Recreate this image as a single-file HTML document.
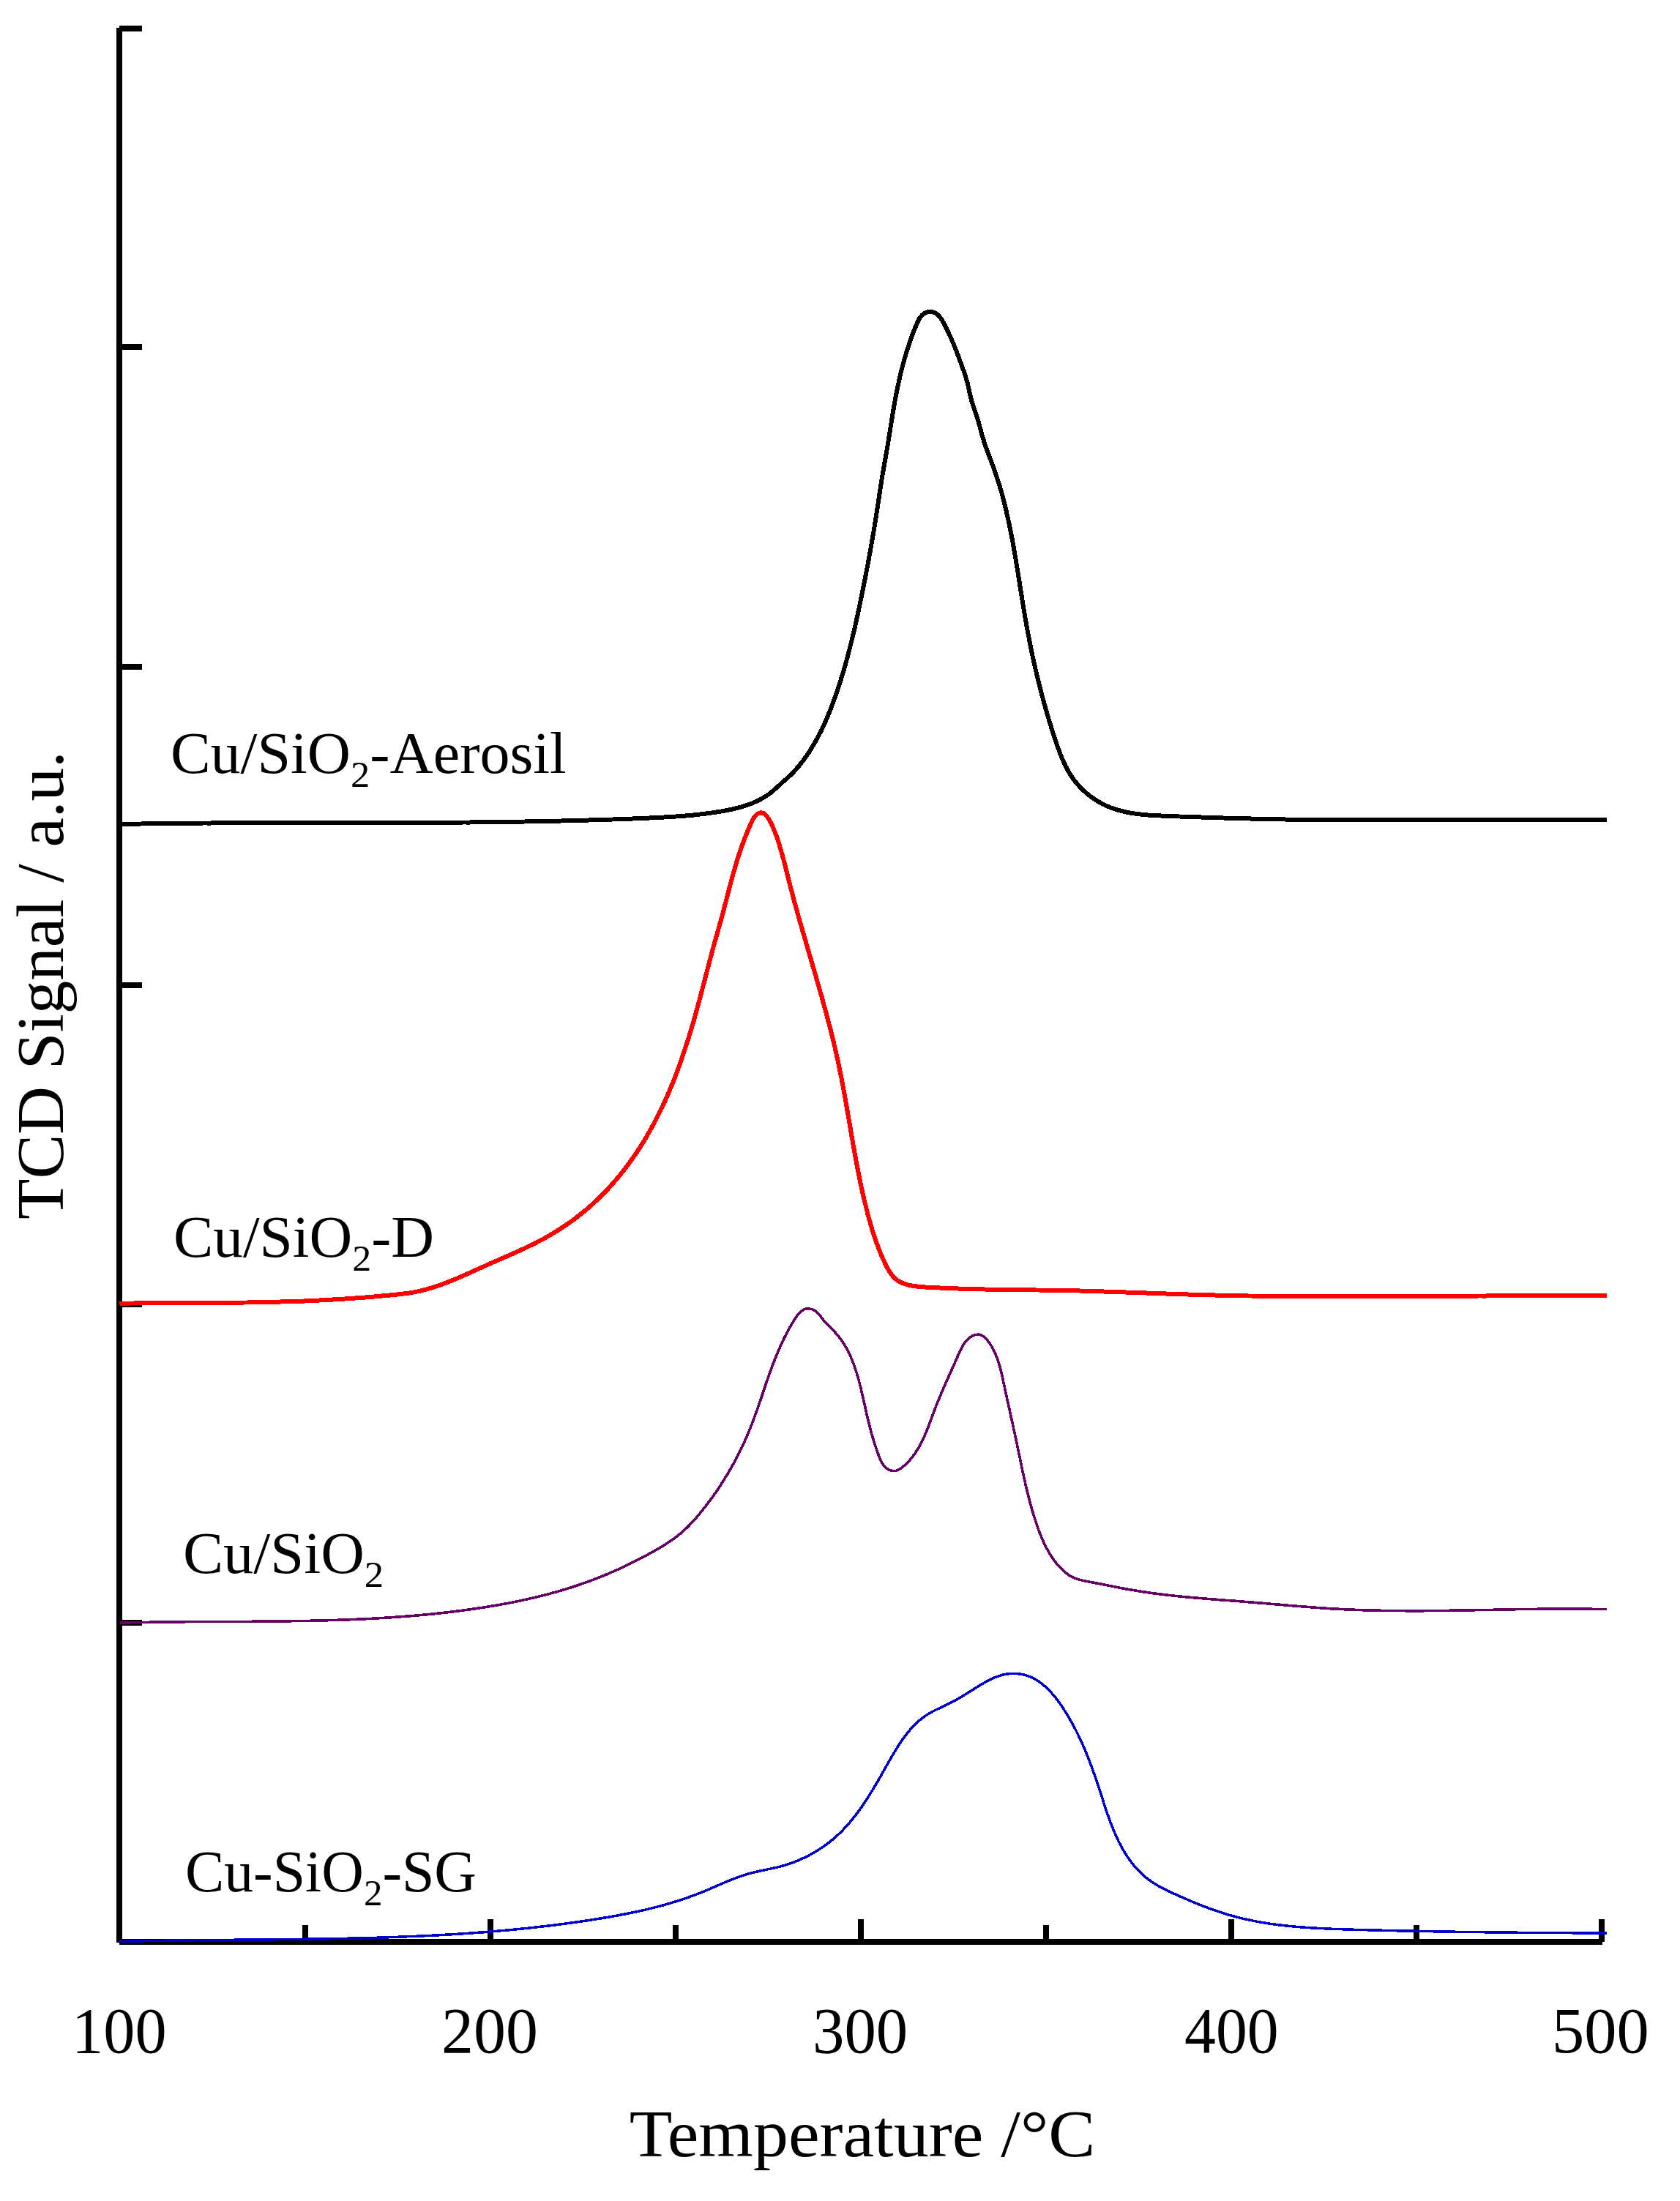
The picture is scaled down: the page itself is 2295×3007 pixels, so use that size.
<!DOCTYPE html>
<html lang="en">
<head>
<meta charset="utf-8">
<title>TPR profiles of Cu/SiO2 catalysts</title>
<style>
html,body{margin:0;padding:0;background:#fff;}
body{width:2295px;height:3007px;overflow:hidden;font-family:"Liberation Serif","DejaVu Serif",serif;}
svg{display:block;}
</style>
</head>
<body>
<svg width="2295" height="3007" viewBox="0 0 2295 3007" role="img" aria-label="H2-TPR profiles"><rect x="0" y="0" width="2295" height="3007" fill="#fff"/>
<g fill="#000" shape-rendering="crispEdges"><rect x="159" y="38" width="8" height="2616"/><rect x="163" y="2649" width="2026" height="8"/><rect x="163" y="35" width="31" height="8"/><rect x="163" y="470" width="31" height="8"/><rect x="163" y="907" width="31" height="8"/><rect x="163" y="1342" width="31" height="8"/><rect x="163" y="1778" width="31" height="8"/><rect x="163" y="2213" width="31" height="8"/><rect x="413" y="2630" width="8" height="23"/><rect x="666" y="2622" width="8" height="31"/><rect x="919" y="2630" width="8" height="23"/><rect x="1172" y="2622" width="8" height="31"/><rect x="1425" y="2630" width="8" height="23"/><rect x="1678" y="2622" width="8" height="31"/><rect x="1931" y="2630" width="8" height="23"/><rect x="2184" y="2622" width="8" height="31"/></g>
<path d="M163.0,2652.5L168.0,2652.4L173.0,2652.3L177.9,2652.1L182.9,2652.0L187.9,2651.9L192.9,2651.8L197.9,2651.7L202.9,2651.6L207.9,2651.5L212.8,2651.5L217.8,2651.4L222.8,2651.3L227.8,2651.2L232.8,2651.1L237.8,2651.1L242.8,2651.0L247.8,2651.0L252.8,2650.9L257.8,2650.8L262.8,2650.8L267.8,2650.7L272.8,2650.7L277.8,2650.6L282.8,2650.6L287.8,2650.5L292.8,2650.5L297.8,2650.4L302.8,2650.4L307.8,2650.3L312.8,2650.3L317.8,2650.3L322.8,2650.2L327.8,2650.2L332.8,2650.1L337.8,2650.1L342.8,2650.0L347.8,2650.0L352.8,2650.0L357.8,2649.9L362.8,2649.9L367.8,2649.8L372.8,2649.8L377.8,2649.7L382.8,2649.7L387.8,2649.6L392.8,2649.6L397.8,2649.5L402.8,2649.5L407.8,2649.4L412.8,2649.3L417.8,2649.3L422.8,2649.2L427.8,2649.1L432.8,2649.1L437.8,2649.0L442.8,2648.9L447.9,2648.8L452.9,2648.7L457.9,2648.6L462.9,2648.5L467.9,2648.4L472.9,2648.3L477.9,2648.2L482.9,2648.1L487.9,2648.0L492.9,2647.9L497.9,2647.7L502.9,2647.6L507.9,2647.5L512.9,2647.3L517.9,2647.2L522.9,2647.0L527.9,2646.9L532.9,2646.7L537.9,2646.5L542.9,2646.3L547.9,2646.1L552.9,2645.9L557.9,2645.7L562.9,2645.5L567.9,2645.3L572.8,2645.1L577.8,2644.9L582.8,2644.6L587.8,2644.4L592.8,2644.1L597.8,2643.9L602.8,2643.6L607.8,2643.3L612.8,2643.0L617.8,2642.7L622.7,2642.4L627.7,2642.1L632.7,2641.8L637.7,2641.4L642.7,2641.1L647.7,2640.7L652.6,2640.3L657.6,2640.0L662.6,2639.6L667.6,2639.2L672.6,2638.8L677.5,2638.4L682.5,2637.9L687.5,2637.5L692.4,2637.0L697.4,2636.6L702.4,2636.1L707.4,2635.6L712.3,2635.1L717.3,2634.6L722.3,2634.1L727.2,2633.5L732.2,2633.0L737.1,2632.4L742.1,2631.9L747.1,2631.3L752.0,2630.7L757.0,2630.1L761.9,2629.4L766.9,2628.8L771.8,2628.1L776.8,2627.5L781.7,2626.8L786.7,2626.1L791.6,2625.4L796.5,2624.7L801.5,2623.9L806.4,2623.2L811.4,2622.4L816.3,2621.6L821.2,2620.8L826.2,2620.0L831.1,2619.2L836.0,2618.3L840.9,2617.4L845.9,2616.5L850.8,2615.6L855.7,2614.6L860.6,2613.6L865.5,2612.6L870.3,2611.6L875.2,2610.5L880.1,2609.4L885.0,2608.3L889.8,2607.1L894.6,2605.9L899.5,2604.6L904.3,2603.3L909.1,2602.0L913.9,2600.6L918.7,2599.2L923.5,2597.7L928.2,2596.2L933.0,2594.7L937.7,2593.0L942.4,2591.4L947.1,2589.7L951.8,2587.9L956.5,2586.1L961.1,2584.2L965.8,2582.3L970.4,2580.3L975.0,2578.3L979.6,2576.3L984.2,2574.3L988.8,2572.3L993.5,2570.4L998.1,2568.5L1002.7,2566.7L1007.4,2564.9L1012.1,2563.2L1016.8,2561.6L1021.6,2560.2L1026.3,2558.9L1031.2,2557.7L1036.0,2556.6L1040.9,2555.5L1045.7,2554.5L1050.6,2553.5L1055.5,2552.5L1060.4,2551.4L1065.2,2550.2L1070.0,2548.9L1074.8,2547.4L1079.6,2545.9L1084.3,2544.1L1089.0,2542.3L1093.6,2540.3L1098.2,2538.2L1102.8,2536.0L1107.2,2533.6L1111.6,2531.2L1115.9,2528.6L1120.2,2525.9L1124.4,2523.1L1128.4,2520.2L1132.4,2517.2L1136.3,2514.1L1140.1,2510.9L1143.8,2507.6L1147.4,2504.2L1150.9,2500.7L1154.3,2497.1L1157.6,2493.5L1160.9,2489.7L1164.0,2485.9L1167.1,2482.1L1170.2,2478.1L1173.1,2474.1L1176.0,2470.1L1178.8,2466.0L1181.6,2461.8L1184.4,2457.6L1187.1,2453.4L1189.7,2449.1L1192.4,2444.8L1194.9,2440.5L1197.5,2436.1L1200.1,2431.8L1202.6,2427.4L1205.1,2423.0L1207.6,2418.5L1210.1,2414.1L1212.6,2409.7L1215.1,2405.3L1217.6,2400.9L1220.2,2396.5L1222.8,2392.2L1225.4,2387.9L1228.1,2383.7L1230.8,2379.5L1233.6,2375.5L1236.6,2371.5L1239.6,2367.6L1242.7,2363.9L1245.9,2360.3L1249.2,2356.8L1252.7,2353.4L1256.3,2350.2L1260.0,2347.2L1263.9,2344.4L1268.0,2341.7L1272.3,2339.2L1276.7,2336.9L1281.2,2334.7L1285.7,2332.5L1290.3,2330.4L1294.9,2328.2L1299.4,2326.0L1303.8,2323.6L1308.2,2321.2L1312.5,2318.7L1316.8,2316.1L1321.1,2313.4L1325.3,2310.8L1329.6,2308.1L1333.9,2305.4L1338.2,2302.7L1342.6,2300.1L1347.0,2297.5L1351.5,2295.2L1356.0,2293.0L1360.6,2291.0L1365.4,2289.4L1370.1,2288.1L1375.0,2287.1L1379.9,2286.6L1384.8,2286.4L1389.7,2286.6L1394.5,2287.2L1399.3,2288.2L1403.8,2289.5L1408.3,2291.3L1412.6,2293.3L1416.7,2295.7L1420.7,2298.4L1424.6,2301.4L1428.3,2304.6L1431.9,2308.1L1435.4,2311.7L1438.8,2315.6L1442.1,2319.5L1445.3,2323.7L1448.3,2327.9L1451.3,2332.2L1454.1,2336.6L1456.9,2341.0L1459.5,2345.4L1462.1,2349.8L1464.6,2354.2L1467.0,2358.7L1469.3,2363.1L1471.6,2367.6L1473.7,2372.0L1475.9,2376.5L1477.9,2381.0L1479.9,2385.5L1481.9,2390.0L1483.7,2394.5L1485.6,2399.1L1487.4,2403.6L1489.1,2408.2L1490.9,2412.8L1492.5,2417.4L1494.2,2422.1L1495.8,2426.7L1497.4,2431.4L1499.0,2436.1L1500.6,2440.8L1502.1,2445.6L1503.7,2450.3L1505.3,2455.1L1506.8,2459.9L1508.4,2464.7L1510.0,2469.5L1511.6,2474.4L1513.2,2479.1L1514.9,2483.9L1516.7,2488.7L1518.5,2493.4L1520.3,2498.1L1522.3,2502.8L1524.3,2507.4L1526.4,2512.0L1528.5,2516.5L1530.8,2520.9L1533.2,2525.3L1535.7,2529.6L1538.3,2533.8L1541.0,2538.0L1543.9,2542.0L1546.9,2546.0L1550.0,2549.8L1553.3,2553.5L1556.7,2557.1L1560.2,2560.5L1563.9,2563.8L1567.8,2566.9L1571.7,2569.8L1575.8,2572.6L1580.1,2575.2L1584.4,2577.6L1588.8,2580.0L1593.2,2582.2L1597.8,2584.4L1602.3,2586.5L1606.9,2588.6L1611.5,2590.7L1616.2,2592.7L1620.8,2594.7L1625.4,2596.7L1630.1,2598.7L1634.7,2600.6L1639.4,2602.4L1644.1,2604.3L1648.8,2606.1L1653.5,2607.8L1658.2,2609.5L1662.9,2611.1L1667.7,2612.7L1672.4,2614.2L1677.2,2615.7L1682.0,2617.1L1686.8,2618.4L1691.6,2619.6L1696.4,2620.8L1701.3,2622.0L1706.1,2623.0L1711.0,2624.0L1715.9,2625.0L1720.7,2625.9L1725.6,2626.7L1730.6,2627.5L1735.5,2628.3L1740.4,2629.0L1745.3,2629.6L1750.3,2630.2L1755.2,2630.8L1760.2,2631.3L1765.2,2631.8L1770.1,2632.3L1775.1,2632.7L1780.1,2633.1L1785.1,2633.4L1790.1,2633.8L1795.1,2634.1L1800.1,2634.3L1805.1,2634.6L1810.1,2634.8L1815.1,2635.1L1820.1,2635.3L1825.2,2635.5L1830.2,2635.6L1835.2,2635.8L1840.2,2636.0L1845.2,2636.1L1850.2,2636.3L1855.2,2636.4L1860.2,2636.6L1865.3,2636.7L1870.3,2636.8L1875.3,2637.0L1880.3,2637.1L1885.3,2637.2L1890.3,2637.3L1895.3,2637.5L1900.3,2637.6L1905.3,2637.7L1910.3,2637.8L1915.3,2637.9L1920.3,2638.0L1925.3,2638.1L1930.3,2638.2L1935.2,2638.3L1940.2,2638.4L1945.2,2638.5L1950.2,2638.6L1955.2,2638.7L1960.2,2638.8L1965.2,2638.9L1970.2,2639.0L1975.2,2639.0L1980.2,2639.1L1985.1,2639.2L1990.1,2639.3L1995.1,2639.3L2000.1,2639.4L2005.1,2639.5L2010.1,2639.6L2015.1,2639.6L2020.1,2639.7L2025.0,2639.7L2030.0,2639.8L2035.0,2639.9L2040.0,2639.9L2045.0,2640.0L2050.0,2640.0L2055.0,2640.1L2060.0,2640.1L2064.9,2640.2L2069.9,2640.2L2074.9,2640.3L2079.9,2640.3L2084.9,2640.3L2089.9,2640.4L2094.9,2640.4L2099.9,2640.5L2104.9,2640.5L2109.9,2640.5L2114.9,2640.6L2119.9,2640.6L2124.9,2640.6L2129.9,2640.7L2134.9,2640.7L2139.9,2640.7L2144.9,2640.7L2149.9,2640.8L2154.9,2640.8L2159.9,2640.8L2164.9,2640.9L2169.9,2640.9L2174.9,2640.9L2179.9,2640.9L2185.0,2641.0L2190.0,2641.0L2195.0,2641.0" fill="none" stroke="#0000cc" stroke-width="3.5" stroke-linejoin="round" stroke-linecap="butt" shape-rendering="crispEdges"/>
<path d="M164.0,2217.1L169.0,2217.0L173.9,2216.8L178.9,2216.7L183.9,2216.6L188.9,2216.5L193.9,2216.4L198.8,2216.3L203.8,2216.3L208.8,2216.2L213.8,2216.1L218.8,2216.0L223.8,2216.0L228.8,2215.9L233.7,2215.9L238.7,2215.8L243.7,2215.8L248.7,2215.8L253.7,2215.7L258.7,2215.7L263.7,2215.6L268.7,2215.6L273.7,2215.6L278.7,2215.6L283.7,2215.5L288.7,2215.5L293.7,2215.5L298.7,2215.5L303.7,2215.5L308.7,2215.4L313.7,2215.4L318.7,2215.4L323.7,2215.4L328.7,2215.4L333.7,2215.3L338.7,2215.3L343.7,2215.3L348.7,2215.2L353.7,2215.2L358.7,2215.2L363.7,2215.1L368.7,2215.1L373.7,2215.0L378.7,2215.0L383.7,2214.9L388.7,2214.9L393.6,2214.8L398.6,2214.7L403.6,2214.7L408.6,2214.6L413.6,2214.5L418.6,2214.4L423.6,2214.3L428.6,2214.2L433.6,2214.1L438.6,2214.0L443.6,2213.8L448.6,2213.7L453.6,2213.5L458.6,2213.4L463.6,2213.2L468.6,2213.0L473.6,2212.9L478.6,2212.7L483.6,2212.5L488.5,2212.2L493.5,2212.0L498.5,2211.8L503.5,2211.5L508.5,2211.3L513.5,2211.0L518.4,2210.7L523.4,2210.4L528.4,2210.1L533.4,2209.8L538.4,2209.4L543.3,2209.1L548.3,2208.7L553.3,2208.3L558.3,2208.0L563.2,2207.5L568.2,2207.1L573.2,2206.7L578.1,2206.2L583.1,2205.8L588.1,2205.3L593.0,2204.8L598.0,2204.2L602.9,2203.7L607.9,2203.1L612.8,2202.6L617.8,2202.0L622.7,2201.4L627.7,2200.7L632.6,2200.1L637.6,2199.4L642.5,2198.7L647.5,2198.0L652.4,2197.3L657.3,2196.5L662.3,2195.8L667.2,2195.0L672.1,2194.2L677.0,2193.3L682.0,2192.5L686.9,2191.6L691.8,2190.7L696.7,2189.7L701.6,2188.8L706.5,2187.8L711.4,2186.8L716.2,2185.7L721.1,2184.7L726.0,2183.5L730.9,2182.4L735.7,2181.2L740.5,2180.0L745.4,2178.8L750.2,2177.5L755.0,2176.2L759.8,2174.9L764.6,2173.5L769.4,2172.1L774.2,2170.6L778.9,2169.2L783.7,2167.6L788.4,2166.1L793.1,2164.4L797.8,2162.8L802.5,2161.1L807.2,2159.4L811.9,2157.6L816.6,2155.8L821.2,2154.0L825.8,2152.1L830.4,2150.2L835.0,2148.2L839.6,2146.2L844.2,2144.2L848.7,2142.1L853.2,2140.0L857.7,2137.8L862.2,2135.6L866.7,2133.4L871.2,2131.1L875.6,2128.8L880.0,2126.5L884.4,2124.1L888.8,2121.7L893.2,2119.3L897.5,2116.8L901.8,2114.3L906.1,2111.7L910.3,2109.0L914.5,2106.3L918.6,2103.5L922.6,2100.5L926.6,2097.5L930.4,2094.4L934.1,2091.1L937.8,2087.7L941.3,2084.2L944.7,2080.6L948.1,2076.9L951.4,2073.2L954.6,2069.3L957.8,2065.5L960.9,2061.5L964.0,2057.6L967.1,2053.6L970.1,2049.6L973.0,2045.6L975.9,2041.5L978.8,2037.4L981.6,2033.2L984.3,2029.1L987.0,2024.9L989.7,2020.6L992.3,2016.4L994.9,2012.1L997.4,2007.8L999.9,2003.5L1002.3,1999.1L1004.7,1994.7L1007.0,1990.3L1009.2,1985.9L1011.5,1981.4L1013.6,1976.9L1015.7,1972.4L1017.8,1967.9L1019.8,1963.3L1021.8,1958.7L1023.7,1954.1L1025.5,1949.5L1027.3,1944.9L1029.1,1940.2L1030.8,1935.6L1032.5,1930.9L1034.2,1926.2L1035.8,1921.5L1037.5,1916.8L1039.1,1912.1L1040.7,1907.3L1042.3,1902.6L1043.9,1897.9L1045.5,1893.2L1047.1,1888.4L1048.7,1883.7L1050.4,1879.0L1052.1,1874.3L1053.8,1869.6L1055.5,1864.9L1057.3,1860.2L1059.2,1855.6L1061.0,1850.9L1063.0,1846.3L1065.0,1841.7L1067.0,1837.1L1069.1,1832.5L1071.3,1827.9L1073.6,1823.4L1075.9,1818.9L1078.4,1814.4L1080.9,1810.0L1083.6,1805.6L1086.3,1801.2L1089.2,1797.0L1092.3,1793.3L1095.8,1790.4L1099.6,1788.4L1104.0,1787.7L1108.8,1788.6L1113.4,1790.7L1117.3,1794.0L1120.7,1797.9L1123.9,1802.2L1127.1,1806.2L1130.6,1810.0L1134.2,1813.6L1137.8,1817.1L1141.2,1820.7L1144.5,1824.4L1147.5,1828.3L1150.4,1832.2L1153.0,1836.3L1155.5,1840.5L1157.9,1844.8L1160.1,1849.2L1162.2,1853.7L1164.1,1858.3L1165.9,1862.9L1167.6,1867.6L1169.2,1872.4L1170.7,1877.2L1172.1,1882.0L1173.5,1886.9L1174.7,1891.8L1176.0,1896.7L1177.1,1901.6L1178.3,1906.5L1179.4,1911.4L1180.5,1916.3L1181.6,1921.2L1182.7,1926.1L1183.7,1930.9L1184.9,1935.7L1186.0,1940.4L1187.2,1945.2L1188.4,1949.9L1189.6,1954.7L1190.9,1959.5L1192.3,1964.2L1193.7,1969.0L1195.2,1973.8L1196.8,1978.6L1198.5,1983.5L1200.3,1988.4L1202.2,1993.3L1204.4,1998.0L1207.3,2002.3L1210.9,2005.8L1215.2,2008.5L1219.9,2009.7L1224.5,2009.3L1228.7,2007.3L1232.8,2004.4L1236.6,2001.2L1240.1,1997.8L1243.4,1994.2L1246.5,1990.3L1249.5,1986.4L1252.2,1982.2L1254.8,1978.0L1257.2,1973.6L1259.5,1969.1L1261.7,1964.5L1263.8,1959.8L1265.8,1955.1L1267.7,1950.4L1269.5,1945.6L1271.3,1940.8L1273.1,1936.0L1274.9,1931.2L1276.7,1926.5L1278.4,1921.8L1280.3,1917.2L1282.1,1912.7L1284.0,1908.2L1285.8,1903.7L1287.8,1899.2L1289.7,1894.8L1291.6,1890.3L1293.6,1885.9L1295.6,1881.4L1297.6,1876.9L1299.6,1872.4L1301.7,1867.8L1303.8,1863.2L1305.8,1858.5L1307.9,1853.7L1310.0,1848.9L1312.3,1844.1L1314.7,1839.5L1317.4,1835.2L1320.5,1831.3L1324.0,1827.9L1328.0,1825.2L1332.5,1823.5L1337.0,1823.1L1341.2,1824.3L1345.0,1827.0L1348.5,1830.5L1351.7,1834.8L1354.5,1839.3L1357.0,1843.9L1359.2,1848.5L1361.2,1853.2L1363.0,1857.9L1364.5,1862.6L1365.9,1867.4L1367.2,1872.2L1368.4,1877.0L1369.5,1881.9L1370.5,1886.7L1371.5,1891.6L1372.6,1896.4L1373.6,1901.3L1374.7,1906.2L1375.7,1911.0L1376.8,1915.9L1377.9,1920.8L1379.0,1925.6L1380.0,1930.5L1381.1,1935.4L1382.2,1940.2L1383.3,1945.1L1384.3,1950.0L1385.4,1954.9L1386.5,1959.8L1387.5,1964.7L1388.6,1969.6L1389.6,1974.5L1390.6,1979.3L1391.6,1984.2L1392.6,1989.1L1393.7,1994.0L1394.7,1998.9L1395.7,2003.8L1396.7,2008.7L1397.8,2013.6L1398.8,2018.5L1399.9,2023.4L1401.0,2028.2L1402.1,2033.1L1403.3,2037.9L1404.5,2042.8L1405.7,2047.6L1407.0,2052.4L1408.3,2057.2L1409.6,2062.0L1411.1,2066.8L1412.5,2071.6L1414.0,2076.3L1415.6,2081.1L1417.2,2085.8L1418.9,2090.5L1420.7,2095.2L1422.6,2099.8L1424.5,2104.4L1426.6,2108.9L1428.8,2113.4L1431.2,2117.8L1433.7,2122.1L1436.3,2126.4L1439.1,2130.5L1442.1,2134.5L1445.4,2138.4L1448.8,2142.2L1452.4,2145.8L1456.3,2149.1L1460.4,2152.0L1464.7,2154.5L1469.2,2156.4L1473.9,2158.0L1478.7,2159.2L1483.5,2160.3L1488.5,2161.2L1493.4,2162.1L1498.3,2163.1L1503.3,2164.0L1508.2,2165.0L1513.1,2165.9L1518.0,2166.9L1522.9,2167.9L1527.8,2168.8L1532.7,2169.8L1537.6,2170.7L1542.6,2171.6L1547.5,2172.4L1552.4,2173.3L1557.3,2174.1L1562.2,2174.8L1567.2,2175.6L1572.1,2176.3L1577.1,2177.0L1582.0,2177.6L1586.9,2178.2L1591.9,2178.8L1596.8,2179.4L1601.8,2179.9L1606.8,2180.5L1611.7,2181.0L1616.7,2181.5L1621.6,2182.0L1626.6,2182.4L1631.6,2182.9L1636.5,2183.3L1641.5,2183.7L1646.5,2184.1L1651.5,2184.5L1656.4,2184.9L1661.4,2185.3L1666.4,2185.7L1671.4,2186.1L1676.4,2186.5L1681.3,2186.8L1686.3,2187.2L1691.3,2187.6L1696.3,2188.0L1701.3,2188.4L1706.2,2188.8L1711.2,2189.2L1716.2,2189.6L1721.2,2190.0L1726.1,2190.4L1731.1,2190.8L1736.1,2191.3L1741.1,2191.7L1746.0,2192.1L1751.0,2192.5L1756.0,2193.0L1761.0,2193.4L1766.0,2193.8L1770.9,2194.2L1775.9,2194.6L1780.9,2195.0L1785.9,2195.4L1790.8,2195.8L1795.8,2196.2L1800.8,2196.5L1805.8,2196.9L1810.7,2197.2L1815.7,2197.6L1820.7,2197.9L1825.7,2198.1L1830.7,2198.4L1835.6,2198.7L1840.6,2198.9L1845.6,2199.1L1850.6,2199.3L1855.6,2199.5L1860.6,2199.7L1865.5,2199.8L1870.5,2200.0L1875.5,2200.1L1880.5,2200.2L1885.5,2200.3L1890.5,2200.4L1895.5,2200.5L1900.5,2200.5L1905.4,2200.6L1910.4,2200.6L1915.4,2200.7L1920.4,2200.7L1925.4,2200.7L1930.4,2200.7L1935.4,2200.7L1940.4,2200.7L1945.4,2200.7L1950.4,2200.6L1955.3,2200.6L1960.3,2200.5L1965.3,2200.5L1970.3,2200.4L1975.3,2200.4L1980.3,2200.3L1985.3,2200.2L1990.3,2200.2L1995.3,2200.1L2000.3,2200.0L2005.3,2199.9L2010.3,2199.8L2015.3,2199.7L2020.3,2199.6L2025.3,2199.5L2030.3,2199.4L2035.3,2199.3L2040.2,2199.3L2045.2,2199.2L2050.2,2199.1L2055.2,2199.0L2060.2,2198.9L2065.2,2198.8L2070.2,2198.7L2075.2,2198.6L2080.2,2198.5L2085.2,2198.5L2090.2,2198.4L2095.2,2198.3L2100.2,2198.3L2105.2,2198.2L2110.2,2198.2L2115.2,2198.1L2120.1,2198.1L2125.1,2198.1L2130.1,2198.0L2135.1,2198.0L2140.1,2198.0L2145.1,2198.0L2150.1,2198.1L2155.1,2198.1L2160.1,2198.1L2165.1,2198.2L2170.1,2198.2L2175.0,2198.3L2180.0,2198.4L2185.0,2198.5L2190.0,2198.6L2195.0,2198.7" fill="none" stroke="#660066" stroke-width="3.6" stroke-linejoin="round" stroke-linecap="butt" shape-rendering="crispEdges"/>
<path d="M163.5,1780.7L168.5,1780.6L173.5,1780.6L178.4,1780.5L183.4,1780.5L188.4,1780.4L193.4,1780.4L198.4,1780.4L203.4,1780.3L208.4,1780.3L213.4,1780.3L218.4,1780.2L223.3,1780.2L228.3,1780.2L233.3,1780.2L238.3,1780.1L243.3,1780.1L248.3,1780.1L253.3,1780.1L258.3,1780.1L263.3,1780.1L268.3,1780.0L273.3,1780.0L278.3,1780.0L283.3,1780.0L288.3,1779.9L293.4,1779.9L298.4,1779.9L303.4,1779.8L308.4,1779.8L313.4,1779.7L318.4,1779.7L323.4,1779.6L328.4,1779.6L333.4,1779.5L338.4,1779.5L343.4,1779.4L348.4,1779.3L353.4,1779.2L358.4,1779.1L363.4,1779.0L368.3,1778.9L373.3,1778.8L378.3,1778.7L383.3,1778.5L388.3,1778.4L393.3,1778.2L398.3,1778.1L403.3,1777.9L408.2,1777.7L413.2,1777.6L418.2,1777.4L423.2,1777.1L428.1,1776.9L433.1,1776.7L438.1,1776.4L443.1,1776.2L448.0,1775.9L453.0,1775.6L458.0,1775.3L462.9,1775.0L467.9,1774.7L472.9,1774.4L477.8,1774.1L482.8,1773.7L487.8,1773.3L492.8,1773.0L497.7,1772.6L502.7,1772.2L507.7,1771.8L512.7,1771.3L517.7,1770.9L522.7,1770.4L527.7,1770.0L532.7,1769.5L537.7,1769.0L542.7,1768.5L547.7,1767.9L552.7,1767.3L557.7,1766.7L562.7,1765.9L567.6,1765.0L572.5,1764.0L577.3,1762.8L582.1,1761.6L586.9,1760.2L591.6,1758.8L596.4,1757.2L601.1,1755.6L605.7,1753.9L610.4,1752.2L615.0,1750.3L619.7,1748.5L624.3,1746.5L628.9,1744.6L633.5,1742.6L638.0,1740.5L642.6,1738.5L647.2,1736.4L651.7,1734.3L656.3,1732.3L660.9,1730.2L665.4,1728.1L670.0,1726.1L674.6,1724.1L679.2,1722.1L683.7,1720.1L688.3,1718.1L692.9,1716.1L697.5,1714.1L702.0,1712.1L706.6,1710.0L711.1,1708.0L715.6,1705.9L720.2,1703.8L724.6,1701.6L729.1,1699.4L733.6,1697.1L738.0,1694.8L742.4,1692.5L746.7,1690.0L751.1,1687.6L755.4,1685.0L759.6,1682.4L763.9,1679.8L768.0,1677.0L772.2,1674.3L776.3,1671.4L780.4,1668.6L784.4,1665.6L788.4,1662.6L792.3,1659.5L796.2,1656.4L800.1,1653.2L803.9,1650.0L807.6,1646.7L811.3,1643.3L815.0,1639.9L818.6,1636.5L822.1,1632.9L825.6,1629.4L829.1,1625.8L832.5,1622.1L835.8,1618.4L839.1,1614.6L842.4,1610.8L845.6,1607.0L848.7,1603.1L851.8,1599.2L854.9,1595.2L857.9,1591.2L860.8,1587.2L863.7,1583.1L866.6,1579.0L869.4,1574.9L872.2,1570.7L874.9,1566.5L877.5,1562.3L880.1,1558.1L882.7,1553.8L885.2,1549.5L887.7,1545.2L890.1,1540.8L892.5,1536.4L894.8,1532.0L897.1,1527.6L899.3,1523.2L901.5,1518.7L903.7,1514.2L905.8,1509.7L907.9,1505.2L910.0,1500.7L912.0,1496.1L914.0,1491.5L915.9,1486.9L917.8,1482.3L919.7,1477.7L921.5,1473.1L923.3,1468.4L925.1,1463.7L926.8,1459.0L928.5,1454.4L930.2,1449.6L931.8,1444.9L933.4,1440.2L935.0,1435.4L936.6,1430.7L938.1,1425.9L939.6,1421.2L941.1,1416.4L942.6,1411.6L944.0,1406.8L945.5,1402.0L946.9,1397.2L948.3,1392.4L949.6,1387.6L951.0,1382.8L952.3,1377.9L953.6,1373.1L954.9,1368.3L956.2,1363.5L957.5,1358.6L958.8,1353.8L960.0,1349.0L961.3,1344.2L962.5,1339.3L963.8,1334.5L965.1,1329.7L966.3,1324.9L967.6,1320.0L968.8,1315.2L970.1,1310.4L971.4,1305.6L972.7,1300.8L974.0,1296.0L975.3,1291.2L976.6,1286.4L978.0,1281.6L979.3,1276.9L980.6,1272.1L982.0,1267.3L983.3,1262.5L984.7,1257.7L986.0,1253.0L987.3,1248.2L988.6,1243.3L989.8,1238.5L991.1,1233.7L992.3,1228.9L993.6,1224.0L994.8,1219.2L996.1,1214.4L997.4,1209.5L998.6,1204.7L999.9,1199.9L1001.2,1195.1L1002.6,1190.2L1004.0,1185.4L1005.4,1180.6L1006.8,1175.9L1008.3,1171.1L1009.8,1166.4L1011.4,1161.6L1013.1,1156.9L1014.8,1152.2L1016.5,1147.5L1018.3,1142.9L1020.2,1138.3L1022.1,1133.6L1024.1,1129.0L1026.1,1124.5L1028.3,1119.9L1030.9,1115.6L1034.6,1112.0L1039.2,1110.3L1043.7,1111.2L1047.2,1114.5L1050.1,1118.8L1052.5,1123.2L1054.8,1127.7L1056.8,1132.3L1058.6,1136.9L1060.4,1141.6L1062.0,1146.3L1063.6,1151.1L1065.1,1155.8L1066.5,1160.6L1067.9,1165.4L1069.2,1170.2L1070.5,1175.0L1071.8,1179.8L1073.0,1184.7L1074.3,1189.5L1075.5,1194.4L1076.7,1199.2L1077.9,1204.1L1079.2,1208.9L1080.4,1213.8L1081.7,1218.6L1083.0,1223.4L1084.2,1228.2L1085.5,1233.1L1086.9,1237.9L1088.2,1242.7L1089.5,1247.5L1090.9,1252.3L1092.2,1257.1L1093.6,1261.9L1095.0,1266.7L1096.3,1271.5L1097.7,1276.3L1099.1,1281.1L1100.5,1285.9L1101.9,1290.7L1103.3,1295.5L1104.7,1300.2L1106.1,1305.0L1107.5,1309.8L1108.9,1314.6L1110.3,1319.4L1111.7,1324.2L1113.1,1329.0L1114.5,1333.8L1115.8,1338.6L1117.2,1343.4L1118.6,1348.2L1120.0,1353.0L1121.3,1357.8L1122.7,1362.6L1124.0,1367.4L1125.3,1372.2L1126.7,1377.0L1128.0,1381.8L1129.3,1386.7L1130.6,1391.5L1131.8,1396.3L1133.1,1401.1L1134.3,1406.0L1135.6,1410.8L1136.8,1415.6L1138.0,1420.5L1139.1,1425.3L1140.3,1430.2L1141.4,1435.1L1142.5,1439.9L1143.6,1444.8L1144.7,1449.7L1145.7,1454.6L1146.7,1459.5L1147.7,1464.3L1148.7,1469.2L1149.7,1474.1L1150.6,1479.1L1151.5,1484.0L1152.5,1488.9L1153.4,1493.8L1154.3,1498.7L1155.1,1503.6L1156.0,1508.6L1156.9,1513.5L1157.7,1518.4L1158.6,1523.4L1159.4,1528.3L1160.3,1533.2L1161.1,1538.2L1161.9,1543.1L1162.8,1548.0L1163.6,1552.9L1164.5,1557.9L1165.3,1562.8L1166.2,1567.7L1167.1,1572.6L1168.0,1577.6L1168.9,1582.5L1169.8,1587.4L1170.7,1592.3L1171.6,1597.2L1172.6,1602.1L1173.6,1607.0L1174.6,1611.9L1175.6,1616.7L1176.6,1621.6L1177.7,1626.5L1178.7,1631.3L1179.9,1636.2L1181.0,1641.0L1182.2,1645.9L1183.4,1650.7L1184.6,1655.5L1185.8,1660.3L1187.1,1665.1L1188.5,1669.9L1189.9,1674.7L1191.3,1679.5L1192.8,1684.2L1194.3,1689.0L1195.9,1693.7L1197.6,1698.5L1199.4,1703.2L1201.2,1707.9L1203.1,1712.6L1205.1,1717.3L1207.2,1721.9L1209.4,1726.6L1211.6,1731.2L1214.1,1735.7L1216.8,1739.9L1219.8,1743.8L1223.2,1747.1L1226.9,1749.9L1231.0,1752.1L1235.4,1754.0L1240.1,1755.4L1244.9,1756.4L1250.0,1757.2L1255.1,1757.8L1260.3,1758.2L1265.5,1758.6L1270.7,1758.8L1275.9,1759.1L1281.0,1759.4L1286.1,1759.6L1291.1,1759.8L1296.2,1760.0L1301.1,1760.2L1306.1,1760.4L1311.1,1760.6L1316.0,1760.8L1320.9,1760.9L1325.8,1761.1L1330.7,1761.2L1335.6,1761.3L1340.5,1761.4L1345.4,1761.5L1350.4,1761.6L1355.3,1761.7L1360.2,1761.8L1365.2,1761.9L1370.1,1761.9L1375.1,1762.0L1380.1,1762.1L1385.1,1762.1L1390.1,1762.2L1395.1,1762.2L1400.1,1762.3L1405.1,1762.3L1410.1,1762.4L1415.1,1762.5L1420.2,1762.5L1425.2,1762.6L1430.2,1762.6L1435.3,1762.7L1440.3,1762.8L1445.3,1762.9L1450.3,1763.0L1455.4,1763.1L1460.4,1763.2L1465.4,1763.3L1470.4,1763.4L1475.4,1763.5L1480.4,1763.7L1485.4,1763.8L1490.4,1763.9L1495.5,1764.1L1500.5,1764.2L1505.5,1764.4L1510.5,1764.6L1515.5,1764.7L1520.5,1764.9L1525.5,1765.1L1530.4,1765.2L1535.4,1765.4L1540.4,1765.6L1545.4,1765.8L1550.4,1766.0L1555.4,1766.1L1560.4,1766.3L1565.4,1766.5L1570.4,1766.7L1575.4,1766.9L1580.3,1767.1L1585.3,1767.2L1590.3,1767.4L1595.3,1767.6L1600.3,1767.8L1605.3,1767.9L1610.3,1768.1L1615.2,1768.3L1620.2,1768.4L1625.2,1768.6L1630.2,1768.7L1635.2,1768.9L1640.2,1769.0L1645.2,1769.2L1650.1,1769.3L1655.1,1769.4L1660.1,1769.5L1665.1,1769.7L1670.1,1769.8L1675.1,1769.9L1680.1,1770.0L1685.1,1770.1L1690.0,1770.2L1695.0,1770.3L1700.0,1770.4L1705.0,1770.5L1710.0,1770.5L1715.0,1770.6L1720.0,1770.7L1725.0,1770.8L1730.0,1770.8L1735.0,1770.9L1740.0,1770.9L1745.0,1771.0L1749.9,1771.0L1754.9,1771.1L1759.9,1771.1L1764.9,1771.2L1769.9,1771.2L1774.9,1771.2L1779.9,1771.3L1784.9,1771.3L1789.9,1771.3L1794.9,1771.4L1799.9,1771.4L1804.9,1771.4L1809.9,1771.4L1814.9,1771.4L1819.9,1771.4L1824.9,1771.4L1829.9,1771.4L1834.9,1771.4L1839.9,1771.4L1844.8,1771.4L1849.8,1771.4L1854.8,1771.4L1859.8,1771.4L1864.8,1771.4L1869.8,1771.4L1874.8,1771.4L1879.8,1771.4L1884.8,1771.4L1889.8,1771.3L1894.8,1771.3L1899.8,1771.3L1904.8,1771.3L1909.8,1771.2L1914.8,1771.2L1919.8,1771.2L1924.8,1771.2L1929.8,1771.1L1934.8,1771.1L1939.8,1771.1L1944.8,1771.0L1949.8,1771.0L1954.8,1771.0L1959.8,1770.9L1964.8,1770.9L1969.8,1770.9L1974.8,1770.8L1979.8,1770.8L1984.8,1770.8L1989.8,1770.7L1994.8,1770.7L1999.8,1770.7L2004.7,1770.6L2009.7,1770.6L2014.7,1770.6L2019.7,1770.5L2024.7,1770.5L2029.7,1770.5L2034.7,1770.4L2039.7,1770.4L2044.7,1770.4L2049.7,1770.3L2054.7,1770.3L2059.7,1770.3L2064.7,1770.2L2069.7,1770.2L2074.7,1770.2L2079.7,1770.1L2084.7,1770.1L2089.7,1770.1L2094.7,1770.1L2099.7,1770.0L2104.7,1770.0L2109.6,1770.0L2114.6,1770.0L2119.6,1769.9L2124.6,1769.9L2129.6,1769.9L2134.6,1769.9L2139.6,1769.9L2144.6,1769.9L2149.6,1769.9L2154.6,1769.9L2159.6,1769.9L2164.6,1769.9L2169.6,1769.9L2174.5,1769.9L2179.5,1769.9L2184.5,1769.9L2189.5,1769.9L2194.5,1769.9" fill="none" stroke="#ff0000" stroke-width="6.0" stroke-linejoin="round" stroke-linecap="butt" shape-rendering="crispEdges"/>
<path d="M163.0,1126.0L168.0,1125.9L173.0,1125.8L178.0,1125.7L183.0,1125.6L187.9,1125.6L192.9,1125.5L197.9,1125.4L202.9,1125.3L207.9,1125.3L212.9,1125.2L217.9,1125.1L222.9,1125.1L227.9,1125.0L232.9,1125.0L237.8,1124.9L242.8,1124.8L247.8,1124.8L252.8,1124.7L257.8,1124.7L262.8,1124.7L267.8,1124.6L272.8,1124.6L277.8,1124.5L282.8,1124.5L287.8,1124.5L292.8,1124.4L297.7,1124.4L302.7,1124.4L307.7,1124.4L312.7,1124.3L317.7,1124.3L322.7,1124.3L327.7,1124.3L332.7,1124.3L337.7,1124.2L342.7,1124.2L347.7,1124.2L352.7,1124.2L357.7,1124.2L362.6,1124.2L367.6,1124.2L372.6,1124.1L377.6,1124.1L382.6,1124.1L387.6,1124.1L392.6,1124.1L397.6,1124.1L402.6,1124.1L407.6,1124.1L412.6,1124.1L417.6,1124.1L422.6,1124.1L427.6,1124.1L432.5,1124.1L437.5,1124.1L442.5,1124.1L447.5,1124.1L452.5,1124.1L457.5,1124.1L462.5,1124.1L467.5,1124.1L472.5,1124.1L477.5,1124.1L482.5,1124.1L487.5,1124.1L492.5,1124.1L497.5,1124.1L502.5,1124.0L507.5,1124.0L512.4,1124.0L517.4,1124.0L522.4,1124.0L527.4,1124.0L532.4,1124.0L537.4,1124.0L542.4,1124.0L547.4,1124.0L552.4,1124.0L557.4,1123.9L562.4,1123.9L567.4,1123.9L572.4,1123.9L577.4,1123.9L582.4,1123.8L587.3,1123.8L592.3,1123.8L597.3,1123.8L602.3,1123.7L607.3,1123.7L612.3,1123.7L617.3,1123.7L622.3,1123.6L627.3,1123.6L632.3,1123.5L637.3,1123.5L642.3,1123.5L647.3,1123.4L652.2,1123.4L657.2,1123.3L662.2,1123.3L667.2,1123.2L672.2,1123.1L677.2,1123.1L682.2,1123.0L687.2,1123.0L692.2,1122.9L697.2,1122.8L702.2,1122.7L707.2,1122.7L712.1,1122.6L717.1,1122.5L722.1,1122.4L727.1,1122.3L732.1,1122.2L737.1,1122.1L742.1,1122.0L747.1,1121.9L752.1,1121.8L757.1,1121.7L762.1,1121.6L767.0,1121.5L772.0,1121.4L777.0,1121.3L782.0,1121.1L787.0,1121.0L792.0,1120.9L797.0,1120.7L802.0,1120.6L807.0,1120.4L811.9,1120.3L816.9,1120.1L821.9,1120.0L826.9,1119.8L831.9,1119.6L836.9,1119.5L841.9,1119.3L846.9,1119.1L851.9,1118.9L856.8,1118.7L861.8,1118.6L866.8,1118.4L871.8,1118.1L876.8,1117.9L881.8,1117.7L886.8,1117.5L891.7,1117.3L896.7,1117.0L901.7,1116.8L906.7,1116.5L911.7,1116.2L916.7,1115.9L921.6,1115.6L926.6,1115.3L931.6,1114.9L936.6,1114.5L941.5,1114.0L946.5,1113.6L951.5,1113.1L956.4,1112.5L961.4,1111.9L966.3,1111.3L971.3,1110.6L976.2,1109.9L981.2,1109.1L986.1,1108.3L991.0,1107.4L996.0,1106.4L1000.9,1105.4L1005.7,1104.3L1010.6,1103.0L1015.4,1101.7L1020.1,1100.1L1024.8,1098.5L1029.4,1096.6L1033.9,1094.6L1038.4,1092.3L1042.7,1089.9L1047.0,1087.2L1051.1,1084.4L1055.0,1081.3L1058.8,1078.0L1062.5,1074.7L1066.1,1071.2L1069.9,1067.9L1073.7,1064.7L1077.4,1061.3L1081.0,1057.9L1084.5,1054.3L1087.8,1050.6L1091.0,1046.9L1094.1,1043.0L1097.2,1039.0L1100.1,1035.0L1103.0,1030.8L1105.8,1026.7L1108.4,1022.5L1111.0,1018.2L1113.5,1013.9L1115.9,1009.5L1118.3,1005.1L1120.6,1000.7L1122.8,996.2L1124.9,991.7L1127.0,987.2L1129.0,982.6L1130.9,978.0L1132.8,973.4L1134.7,968.7L1136.4,964.1L1138.2,959.4L1139.9,954.7L1141.6,950.0L1143.2,945.3L1144.8,940.5L1146.4,935.8L1147.9,931.1L1149.4,926.3L1150.9,921.5L1152.3,916.8L1153.7,912.0L1155.1,907.2L1156.4,902.4L1157.7,897.6L1159.0,892.7L1160.3,887.9L1161.5,883.1L1162.7,878.2L1163.9,873.4L1165.1,868.5L1166.2,863.7L1167.4,858.8L1168.5,854.0L1169.6,849.1L1170.6,844.2L1171.7,839.3L1172.8,834.4L1173.8,829.6L1174.8,824.7L1175.8,819.8L1176.8,814.9L1177.8,810.0L1178.8,805.1L1179.8,800.2L1180.8,795.3L1181.7,790.4L1182.7,785.5L1183.6,780.6L1184.6,775.7L1185.5,770.8L1186.4,765.9L1187.3,761.0L1188.2,756.1L1189.1,751.2L1190.0,746.3L1190.8,741.3L1191.7,736.4L1192.5,731.5L1193.4,726.6L1194.2,721.7L1195.0,716.7L1195.8,711.8L1196.6,706.9L1197.4,702.0L1198.1,697.0L1198.9,692.1L1199.6,687.1L1200.4,682.2L1201.1,677.3L1201.9,672.3L1202.6,667.4L1203.4,662.4L1204.1,657.5L1204.9,652.6L1205.7,647.7L1206.6,642.8L1207.4,637.9L1208.3,632.9L1209.2,628.0L1210.1,623.1L1210.9,618.2L1211.8,613.3L1212.6,608.4L1213.4,603.5L1214.2,598.5L1215.0,593.6L1215.8,588.7L1216.6,583.7L1217.4,578.8L1218.1,573.9L1218.9,568.9L1219.7,564.0L1220.6,559.1L1221.4,554.1L1222.3,549.2L1223.2,544.3L1224.1,539.4L1225.1,534.5L1226.1,529.6L1227.1,524.8L1228.2,519.9L1229.3,515.0L1230.4,510.2L1231.6,505.4L1232.9,500.5L1234.1,495.7L1235.5,490.9L1236.9,486.1L1238.3,481.4L1239.8,476.6L1241.3,471.8L1242.9,467.1L1244.6,462.4L1246.3,457.6L1248.1,452.9L1250.0,448.3L1251.9,443.6L1253.9,439.0L1256.3,434.6L1259.4,430.7L1263.4,427.7L1267.9,426.1L1272.7,426.0L1277.4,427.4L1281.4,430.3L1284.8,434.1L1287.6,438.5L1290.1,443.0L1292.3,447.5L1294.5,451.9L1296.6,456.4L1298.7,460.9L1300.6,465.4L1302.6,470.0L1304.4,474.6L1306.3,479.3L1308.1,483.9L1309.9,488.6L1311.6,493.3L1313.3,498.0L1315.0,502.7L1316.7,507.4L1318.3,512.1L1319.8,516.9L1321.2,521.6L1322.4,526.4L1323.5,531.3L1324.5,536.2L1325.6,541.1L1326.8,545.9L1328.2,550.7L1329.8,555.4L1331.4,560.2L1333.0,564.9L1334.6,569.6L1336.1,574.4L1337.5,579.2L1338.8,584.0L1340.0,588.8L1341.3,593.6L1342.7,598.4L1344.2,603.2L1345.8,607.9L1347.4,612.6L1349.1,617.3L1350.9,622.0L1352.7,626.7L1354.5,631.3L1356.2,636.0L1357.9,640.7L1359.6,645.4L1361.2,650.1L1362.7,654.9L1364.2,659.6L1365.7,664.4L1367.1,669.2L1368.5,674.0L1369.8,678.8L1371.0,683.6L1372.3,688.4L1373.5,693.3L1374.6,698.1L1375.7,703.0L1376.8,707.9L1377.9,712.8L1378.9,717.6L1379.9,722.5L1380.9,727.4L1381.8,732.3L1382.8,737.2L1383.7,742.1L1384.6,747.1L1385.4,752.0L1386.3,756.9L1387.1,761.8L1388.0,766.7L1388.8,771.7L1389.6,776.6L1390.4,781.5L1391.2,786.4L1392.0,791.4L1392.8,796.3L1393.5,801.2L1394.3,806.2L1395.1,811.1L1395.9,816.0L1396.7,821.0L1397.5,825.9L1398.3,830.8L1399.1,835.7L1400.0,840.6L1400.8,845.6L1401.7,850.5L1402.5,855.4L1403.4,860.3L1404.3,865.2L1405.3,870.1L1406.2,875.0L1407.2,879.9L1408.2,884.8L1409.2,889.7L1410.2,894.5L1411.3,899.4L1412.3,904.3L1413.4,909.2L1414.5,914.0L1415.7,918.9L1416.8,923.7L1418.0,928.6L1419.2,933.4L1420.4,938.3L1421.6,943.1L1422.9,947.9L1424.2,952.8L1425.5,957.6L1426.8,962.4L1428.2,967.2L1429.6,972.0L1431.0,976.8L1432.4,981.6L1433.8,986.4L1435.3,991.2L1436.8,996.0L1438.3,1000.7L1439.9,1005.5L1441.4,1010.3L1443.0,1015.0L1444.7,1019.8L1446.4,1024.5L1448.1,1029.2L1449.9,1033.8L1451.9,1038.4L1453.9,1042.9L1456.1,1047.4L1458.4,1051.8L1460.9,1056.1L1463.5,1060.3L1466.3,1064.4L1469.3,1068.3L1472.6,1072.2L1476.0,1075.9L1479.5,1079.4L1483.3,1082.8L1487.2,1086.1L1491.2,1089.1L1495.3,1092.0L1499.6,1094.7L1503.9,1097.2L1508.4,1099.4L1512.8,1101.5L1517.4,1103.4L1522.0,1105.0L1526.7,1106.5L1531.4,1107.8L1536.2,1109.0L1541.0,1110.0L1545.9,1110.9L1550.8,1111.6L1555.7,1112.3L1560.7,1112.8L1565.7,1113.3L1570.7,1113.7L1575.7,1114.0L1580.8,1114.3L1585.8,1114.5L1590.8,1114.7L1595.9,1114.9L1600.9,1115.1L1606.0,1115.3L1611.0,1115.5L1616.0,1115.6L1621.0,1115.8L1626.1,1116.0L1631.1,1116.2L1636.1,1116.3L1641.1,1116.5L1646.1,1116.7L1651.1,1116.8L1656.1,1117.0L1661.1,1117.2L1666.1,1117.3L1671.1,1117.5L1676.1,1117.6L1681.0,1117.8L1686.0,1117.9L1691.0,1118.0L1696.0,1118.2L1701.0,1118.3L1705.9,1118.4L1710.9,1118.6L1715.9,1118.7L1720.8,1118.8L1725.8,1118.9L1730.8,1119.0L1735.8,1119.1L1740.7,1119.2L1745.7,1119.3L1750.7,1119.4L1755.7,1119.5L1760.6,1119.6L1765.6,1119.7L1770.6,1119.7L1775.6,1119.8L1780.6,1119.9L1785.5,1119.9L1790.5,1120.0L1795.5,1120.0L1800.5,1120.1L1805.5,1120.1L1810.5,1120.2L1815.4,1120.2L1820.4,1120.3L1825.4,1120.3L1830.4,1120.3L1835.4,1120.3L1840.4,1120.4L1845.4,1120.4L1850.4,1120.4L1855.4,1120.4L1860.4,1120.4L1865.4,1120.4L1870.3,1120.4L1875.3,1120.4L1880.3,1120.4L1885.3,1120.4L1890.3,1120.4L1895.3,1120.4L1900.3,1120.4L1905.3,1120.4L1910.3,1120.4L1915.3,1120.4L1920.3,1120.4L1925.3,1120.3L1930.3,1120.3L1935.3,1120.3L1940.3,1120.3L1945.3,1120.3L1950.3,1120.2L1955.3,1120.2L1960.3,1120.2L1965.3,1120.2L1970.3,1120.1L1975.3,1120.1L1980.3,1120.1L1985.3,1120.1L1990.3,1120.0L1995.3,1120.0L2000.3,1120.0L2005.3,1120.0L2010.3,1119.9L2015.3,1119.9L2020.3,1119.9L2025.3,1119.9L2030.3,1119.8L2035.3,1119.8L2040.3,1119.8L2045.3,1119.8L2050.3,1119.7L2055.3,1119.7L2060.3,1119.7L2065.3,1119.7L2070.3,1119.7L2075.3,1119.7L2080.3,1119.6L2085.3,1119.6L2090.3,1119.6L2095.3,1119.6L2100.3,1119.6L2105.3,1119.6L2110.3,1119.6L2115.3,1119.6L2120.3,1119.6L2125.2,1119.6L2130.2,1119.6L2135.2,1119.6L2140.2,1119.6L2145.2,1119.7L2150.2,1119.7L2155.2,1119.7L2160.1,1119.7L2165.1,1119.8L2170.1,1119.8L2175.1,1119.8L2180.1,1119.9L2185.0,1119.9L2190.0,1120.0L2195.0,1120.0" fill="none" stroke="#000000" stroke-width="6.0" stroke-linejoin="round" stroke-linecap="butt" shape-rendering="crispEdges"/>
<g fill="#000" font-family="'Liberation Serif', 'DejaVu Serif', serif" style="white-space:pre"><text id="aerosil" transform="translate(232.93,1056.00) scale(1.0249,1)" font-size="80">Cu/SiO<tspan font-size="51.2" dy="18.5">2</tspan><tspan dy="-18.5">-Aerosil</tspan></text><text id="d" transform="translate(236.95,1717.00) scale(1.0174,1)" font-size="80">Cu/SiO<tspan font-size="51.2" dy="18.5">2</tspan><tspan dy="-18.5">-D</tspan></text><text id="plain" transform="translate(249.88,2149.00) scale(1.0328,1)" font-size="80">Cu/SiO<tspan font-size="51.2" dy="18.5">2</tspan></text><text id="sg" transform="translate(253.01,2584.00) scale(0.9975,1)" font-size="80">Cu-SiO<tspan font-size="51.2" dy="18.5">2</tspan><tspan dy="-18.5">-SG</tspan></text><text id="t100" transform="translate(98.09,2804.00) scale(0.9643,1)" font-size="89.6">100</text><text id="t200" transform="translate(603.08,2804.00) scale(0.9803,1)" font-size="89.6">200</text><text id="t300" transform="translate(1110.02,2804.00) scale(0.9686,1)" font-size="89.6">300</text><text id="t400" transform="translate(1618.09,2804.00) scale(0.9574,1)" font-size="89.6">400</text><text id="t500" transform="translate(2120.06,2804.00) scale(0.9880,1)" font-size="89.6">500</text><text id="xtitle" transform="translate(859.87,2946.00) scale(1.0661,1)" font-size="90">Temperature /°C</text><text id="ytitle" transform="translate(86.00,1666.00) rotate(-90) scale(1.0008,1)" font-size="91">TCD Signal / a.u.</text></g></svg>
</body>
</html>
